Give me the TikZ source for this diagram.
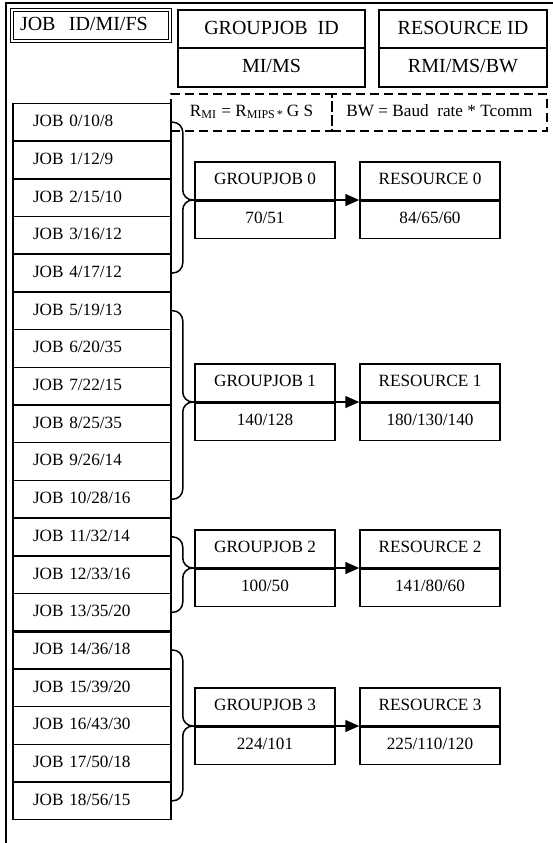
\documentclass[tikz,border=0pt]{standalone}
\usepackage{fontspec}
\setmainfont{Liberation Serif}
\usetikzlibrary{arrows.meta}

\begin{document}
\begin{tikzpicture}[x=0.5pt,y=0.5pt]
		\tikzstyle{every node}+=[inner sep=0pt, font=\fontsize{8.6}{10}\selectfont, text height=6.2pt, text depth=1.8pt]
		\tikzstyle{cell}=[draw=black, line width=0.75pt, rectangle]
		\tikzstyle{job}=[cell, minimum width=79pt, minimum height=18.85pt, text width=59pt, inner xsep=10pt, align=left]
		\tikzstyle{head}=[cell, minimum height=19pt, font=\fontsize{10}{12}\selectfont, text height=7.2pt, text depth=2pt]
		\tikzstyle{gj}=[cell, minimum width=70pt, minimum height=18.75pt]
		\tikzstyle{note}=[draw=black, line width=0.6pt, dash pattern=on 4.5pt off 2.5pt, minimum height=18.5pt]
		\tikzstyle{brc}=[draw=black, line width=0.75pt, rounded corners=5pt]
		\tikzstyle{arr}=[draw=black, line width=0.75pt, -{Triangle[length=7pt,width=6pt]}]
		\useasboundingbox (0,0) rectangle (553,-843);
		\draw [black, line width=0.75pt] (6,-850) -- (6,-3) -- (560,-3);
		\node [head, double, double distance=0.6pt, line width=0.5pt, minimum width=79pt, minimum height=15.5pt, text width=71pt, inner xsep=4pt, align=left] (hjob) at (91,-25.5) {JOB\ \ ID/MI/FS};
		\node [head, minimum width=93.5pt] (hgj) at (271.5,-29) {GROUPJOB\ \ ID};
		\node [head, minimum width=93.5pt, minimum height=19.5pt] (hms) at (271.5,-67.5) {MI/MS};
		\node [head, minimum width=84pt] (hres) at (463,-29) {RESOURCE ID};
		\node [head, minimum width=84pt, minimum height=19.5pt] (hbw) at (463,-67.5) {RMI/MS/BW};
		\node [note, minimum width=80.5pt] (frm) at (251.5,-112.5) {R\textsubscript{MI} = R\textsubscript{MIPS\,*}\,G S};
		\node [note, minimum width=107.5pt] (fbw) at (439.5,-112.5) {BW = Baud\ \ rate * Tcomm};
		\node [job] (j0) at (92,-122.2) {JOB 0/10/8};
		\node [job] (j1) at (92,-159.9) {JOB 1/12/9};
		\node [job] (j2) at (92,-197.6) {JOB 2/15/10};
		\node [job] (j3) at (92,-235.3) {JOB 3/16/12};
		\node [job] (j4) at (92,-273.0) {JOB 4/17/12};
		\node [job] (j5) at (92,-310.7) {JOB 5/19/13};
		\node [job] (j6) at (92,-348.4) {JOB 6/20/35};
		\node [job] (j7) at (92,-386.1) {JOB 7/22/15};
		\node [job] (j8) at (92,-423.8) {JOB 8/25/35};
		\node [job] (j9) at (92,-461.5) {JOB 9/26/14};
		\node [job] (j10) at (92,-499.2) {JOB 10/28/16};
		\node [job] (j11) at (92,-536.9) {JOB 11/32/14};
		\node [job] (j12) at (92,-574.6) {JOB 12/33/16};
		\node [job] (j13) at (92,-612.3) {JOB 13/35/20};
		\node [job] (j14) at (92,-650.0) {JOB 14/36/18};
		\node [job] (j15) at (92,-687.7) {JOB 15/39/20};
		\node [job] (j16) at (92,-725.4) {JOB 16/43/30};
		\node [job] (j17) at (92,-763.1) {JOB 17/50/18};
		\node [job] (j18) at (92,-800.8) {JOB 18/56/15};
		\draw [black, line width=1.3pt] (j13.south west) -- (j13.south east);
		\node [gj, anchor=south] (g0t) at (265,-200) {GROUPJOB 0};
		\node [gj, anchor=north] (g0b) at (265,-200) {70/51};
		\node [gj, anchor=south] (r0t) at (430,-200) {RESOURCE 0};
		\node [gj, anchor=north] (r0b) at (430,-200) {84/65/60};
		\node [gj, anchor=south] (g1t) at (265,-402) {GROUPJOB 1};
		\node [gj, anchor=north] (g1b) at (265,-402) {140/128};
		\node [gj, anchor=south] (r1t) at (430,-402) {RESOURCE 1};
		\node [gj, anchor=north] (r1b) at (430,-402) {180/130/140};
		\node [gj, anchor=south] (g2t) at (265,-568) {GROUPJOB 2};
		\node [gj, anchor=north] (g2b) at (265,-568) {100/50};
		\node [gj, anchor=south] (r2t) at (430,-568) {RESOURCE 2};
		\node [gj, anchor=north] (r2b) at (430,-568) {141/80/60};
		\node [gj, anchor=south] (g3t) at (265,-726) {GROUPJOB 3};
		\node [gj, anchor=north] (g3b) at (265,-726) {224/101};
		\node [gj, anchor=south] (r3t) at (430,-726) {RESOURCE 3};
		\node [gj, anchor=north] (r3b) at (430,-726) {225/110/120};
		\draw [brc] (j0.east) -- ++(5.5pt,0) |- (g0b.north west);
		\draw [brc] (j4.east) -- ++(5.5pt,0) |- (g0b.north west);
		\draw [brc] (j5.east) -- ++(5.5pt,0) |- (g1b.north west);
		\draw [brc] (j10.east) -- ++(5.5pt,0) |- (g1b.north west);
		\draw [brc] (j11.east) -- ++(5.5pt,0) |- (g2b.north west);
		\draw [brc] (j13.east) -- ++(5.5pt,0) |- (g2b.north west);
		\draw [brc] (j14.east) -- ++(5.5pt,0) |- (g3b.north west);
		\draw [brc] (j18.east) -- ++(5.5pt,0) |- (g3b.north west);
		\draw [arr] (g0b.north east) -- (r0b.north west);
		\draw [arr] (g1b.north east) -- (r1b.north west);
		\draw [arr] (g2b.north east) -- (r2b.north west);
		\draw [arr] (g3b.north east) -- (r3b.north west);
\end{tikzpicture}
\end{document}
